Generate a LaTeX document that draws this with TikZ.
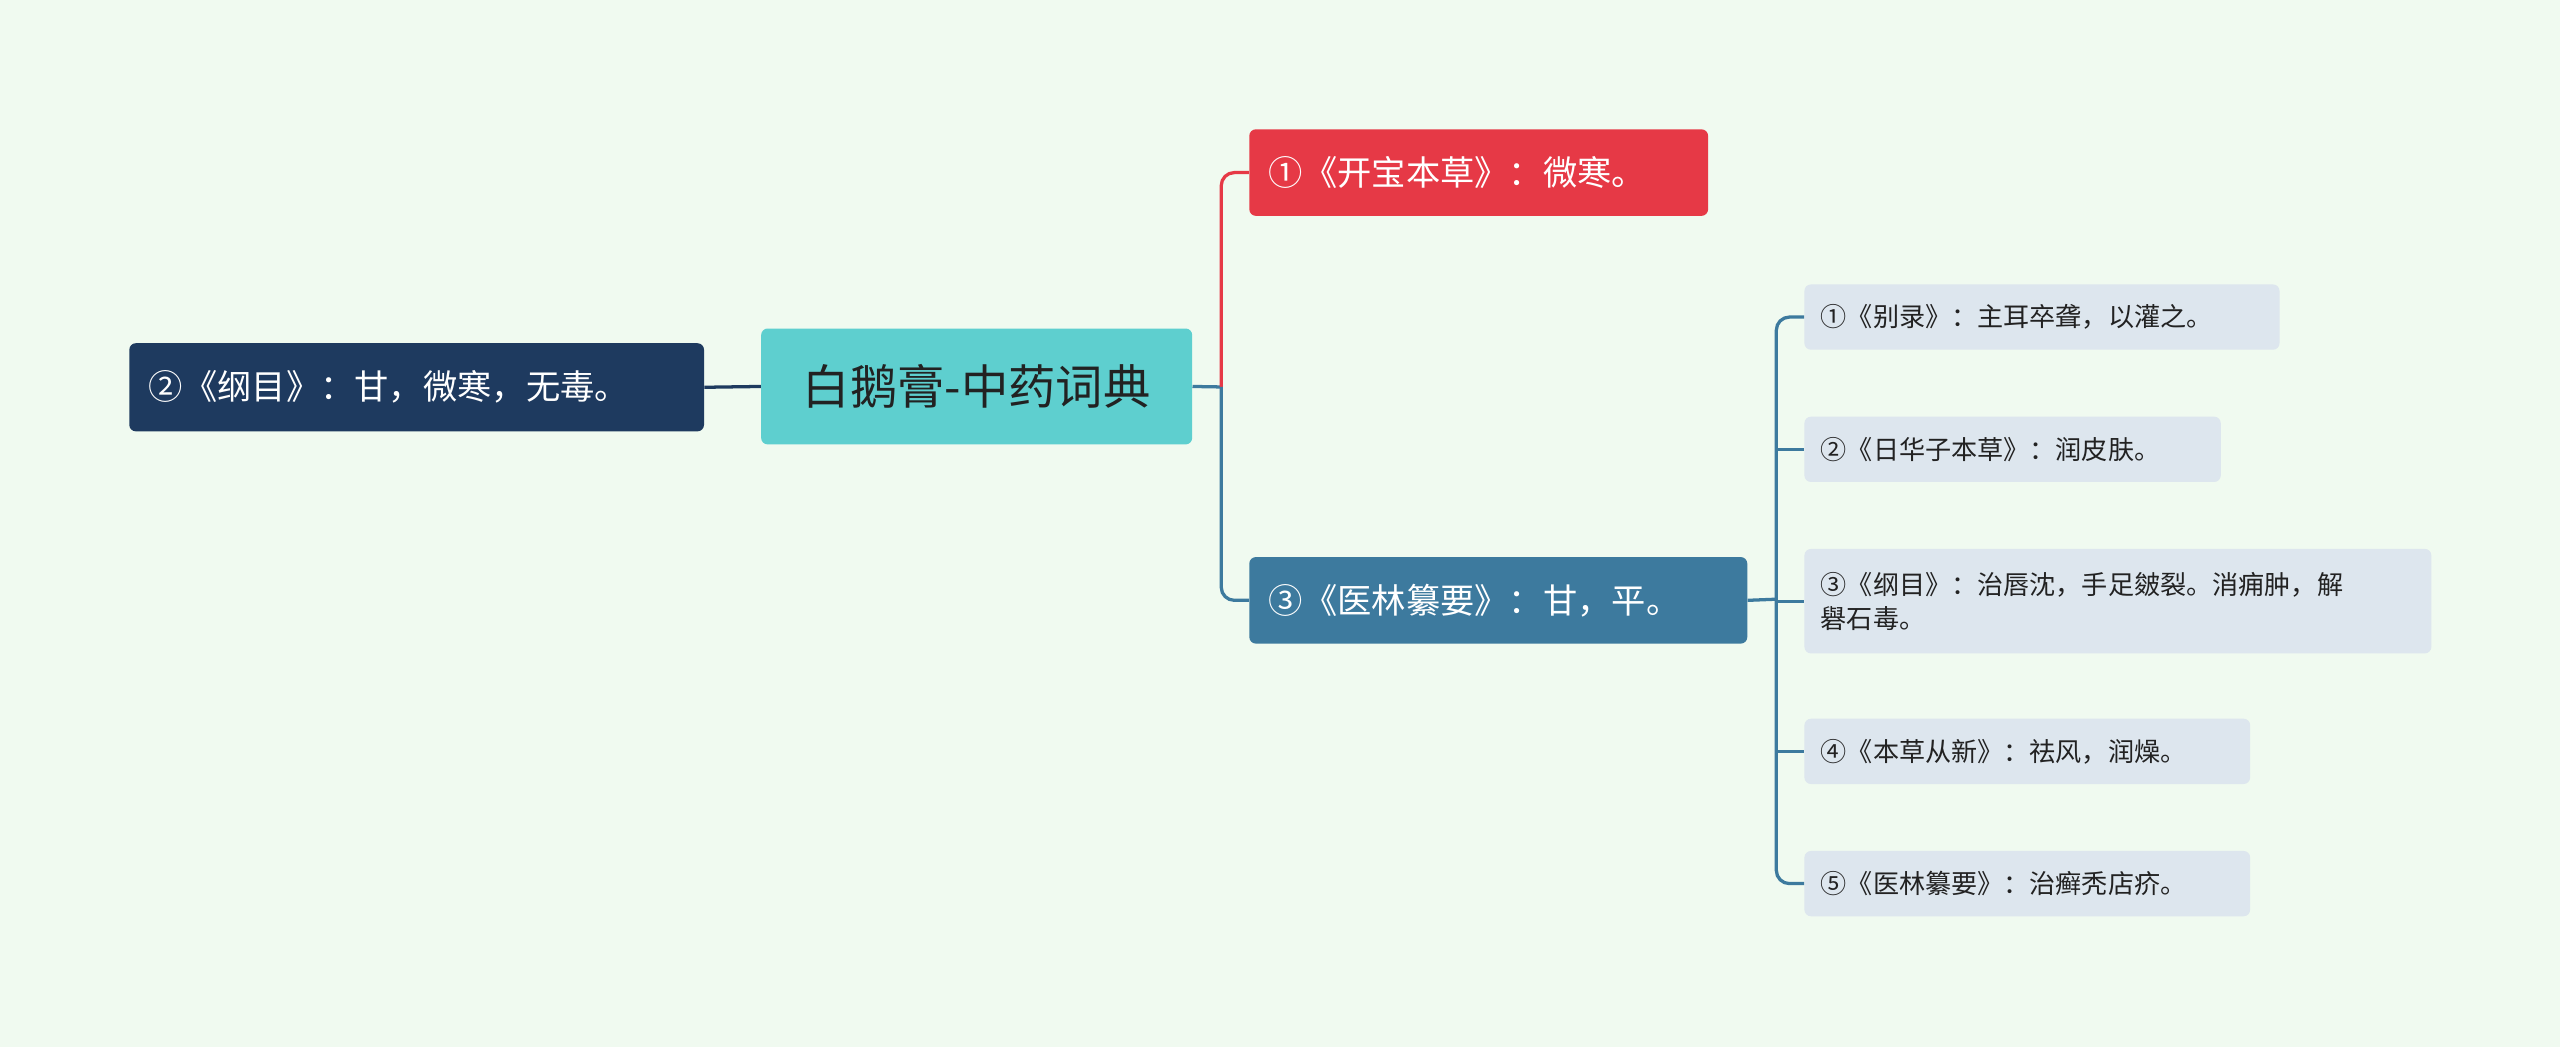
\documentclass[tikz,border=0pt]{standalone}
\usepackage{fontspec}
\setmainfont{Noto Sans CJK SC}
\definecolor{bg}{HTML}{F0FAF0}
\definecolor{teal}{HTML}{5ECFCF}
\definecolor{navy}{HTML}{1E3A5F}
\definecolor{redb}{HTML}{E63946}
\definecolor{blueb}{HTML}{3D7A9E}
\definecolor{leaf}{HTML}{DDE6EE}
\definecolor{txt}{HTML}{222222}
\begin{document}
\begin{tikzpicture}[x=1pt,y=-1pt,
 box/.style={rectangle,rounded corners=4pt,inner sep=0pt,anchor=north west},
 leafbox/.style={box,fill=leaf,text=txt,font=\fontsize{16}{21}\selectfont,align=left,inner xsep=10pt},
 brbox/.style={box,text=white,font=\fontsize{21}{25}\selectfont,align=left,inner xsep=12pt}]
\fill[bg] (0,0) rectangle (1568,641);
\useasboundingbox (0,0) rectangle (1568,641);
\node[box,fill=teal,text=txt,font=\fontsize{29}{34}\selectfont,minimum width=264pt,minimum height=71pt] (ctr) at (466,201) {白鹅膏-中药词典};
\node[brbox,fill=navy,minimum height=54pt,text width=328pt] (lt) at (79,210) {②《纲目》：甘，微寒，无毒。};
\node[brbox,fill=redb,minimum height=53pt,text width=257pt] (rd) at (765,79) {①《开宝本草》：微寒。};
\node[brbox,fill=blueb,minimum height=53pt,text width=281pt] (bl) at (765,341) {③《医林纂要》：甘，平。};
\node[leafbox,minimum height=40pt,text width=271pt] (l1) at (1105,174) {①《别录》：主耳卒聋，以灌之。};
\node[leafbox,minimum height=40pt,text width=235pt] (l2) at (1105,255) {②《日华子本草》：润皮肤。};
\node[leafbox,minimum height=64pt,text width=364pt] (l3) at (1105,336) {③《纲目》：治唇沈，手足皴裂。消痈肿，解\\礜石毒。};
\node[leafbox,minimum height=40pt,text width=253pt] (l4) at (1105,440) {④《本草从新》：祛风，润燥。};
\node[leafbox,minimum height=40pt,text width=253pt] (l5) at (1105,521) {⑤《医林纂要》：治癣秃店疥。};
\coordinate (c) at (748,237);
\coordinate (j) at (1088,367);
\draw[navy,line width=2pt] (lt.east) -- (ctr.west);
\draw[blueb,line width=2pt] (ctr.east) -- (c);
\draw[redb,line width=2pt,rounded corners=8pt] (c) |- (rd.west);
\draw[blueb,line width=2pt,rounded corners=8pt] (c) |- (bl.west);
\draw[blueb,line width=2pt] (bl.east) -- (j);
\draw[blueb,line width=2pt,rounded corners=8pt] (l1.west) -- (l1.west -| j) -- (l5.west -| j) -- (l5.west);
\foreach \n in {l2,l3,l4} \draw[blueb,line width=2pt] (\n.west -| j) -- (\n.west);
\end{tikzpicture}
\end{document}
